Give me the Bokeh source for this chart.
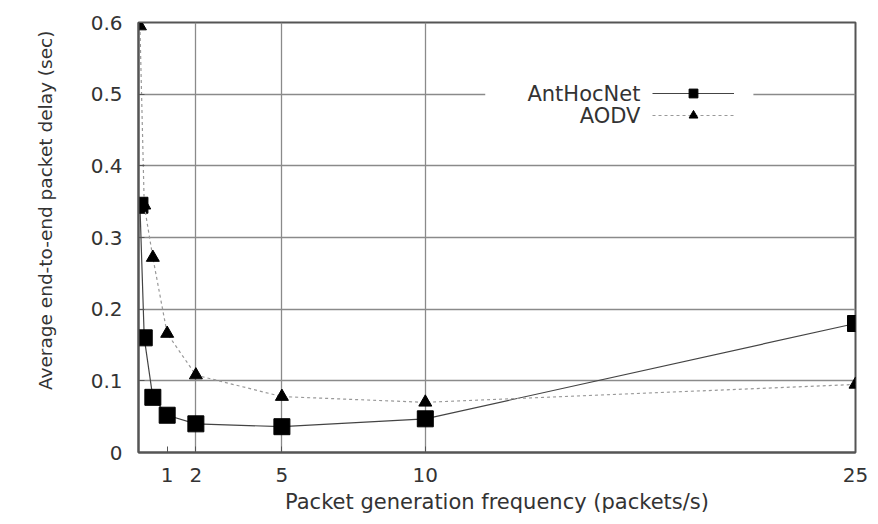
from bokeh.plotting import figure
from bokeh.models import (FixedTicker, Label, BoxAnnotation, Legend, LegendItem, Range1d, Title)
from bokeh.core.properties import value
from bokeh.embed import file_html
from bokeh.resources import INLINE

# ---- data ----
ant_x = [0.05, 0.2, 0.5, 1, 2, 5, 10, 25]
ant_y = [0.345, 0.160, 0.077, 0.052, 0.040, 0.036, 0.047, 0.180]
aodv_x = [0.05, 0.2, 0.5, 1, 2, 5, 10, 25]
aodv_y = [0.595, 0.345, 0.272, 0.166, 0.108, 0.078, 0.070, 0.095]
x_ticks = [1, 2, 5, 10, 25]
x_grid = [2, 5, 10]
y_ticks = [0, 0.1, 0.2, 0.3, 0.4, 0.5, 0.6]
y_tick_labels = ["0", "0.1", "0.2", "0.3", "0.4", "0.5", "0.6"]
series_names = ["AntHocNet", "AODV"]
x_title = "Packet generation frequency (packets/s)"
y_title = "Average end-to-end packet delay (sec)"

FONT = "DejaVu Sans"
TXT = "#333333"

p = figure(width=878, height=524, output_backend="svg", toolbar_location=None,
           x_range=Range1d(0, 25), y_range=Range1d(0, 0.6),
           min_border_left=138, min_border_right=23, min_border_top=22, min_border_bottom=72)
p.background_fill_color = "white"
p.border_fill_color = "white"
p.outline_line_color = "#555555"
p.outline_line_width = 2

# axes
p.xaxis.ticker = FixedTicker(ticks=x_ticks)
p.yaxis.ticker = FixedTicker(ticks=y_ticks)
p.yaxis.major_label_overrides = {t: l for t, l in zip(y_ticks, y_tick_labels)}
for ax in (p.xaxis[0], p.yaxis[0]):
    ax.axis_line_color = "#555555"
    ax.axis_line_width = 2
    ax.major_tick_out = 0
    ax.major_tick_in = 6
    ax.major_tick_line_color = "#555555"
    ax.minor_tick_line_color = None
    ax.major_label_text_font = FONT
    ax.major_label_text_font_size = "20px"
    ax.major_label_text_color = TXT
p.yaxis.major_label_standoff = 16
p.xaxis.major_label_standoff = 15
p.xaxis.axis_label = x_title
p.xaxis.axis_label_text_font = FONT
p.xaxis.axis_label_text_font_size = "21px"
p.xaxis.axis_label_text_font_style = "normal"
p.xaxis.axis_label_text_color = TXT
p.xaxis.axis_label_standoff = 5

# grid
p.xgrid.ticker = FixedTicker(ticks=x_grid)
p.ygrid.ticker = FixedTicker(ticks=y_ticks[1:-1])
for g in (p.xgrid[0], p.ygrid[0]):
    g.grid_line_color = "#8a8a8a"
    g.grid_line_width = 1.3

# y title as a left-side title, shifted toward the top and left like the original
p.add_layout(Title(text=y_title, align="right", offset=8, vertical_align="top", standoff=60,
                   text_font=FONT, text_font_size="18.5px", text_font_style="normal",
                   text_color=TXT), "left")

# series
l_ant = p.line(ant_x, ant_y, line_color="#444444", line_width=1.2)
s_ant = p.scatter(ant_x, ant_y, marker="square", size=16, fill_color="black", line_color="black")
l_aodv = p.line(aodv_x, aodv_y, line_color="#999999", line_width=1.2, line_dash="3 3")
s_aodv = p.scatter(aodv_x, aodv_y, marker="triangle", size=13, fill_color="black", line_color="black")

# legend (gnuplot style: text on left, sample on right)
p.add_layout(BoxAnnotation(left=12.09, right=21.44, top=0.519, bottom=0.454,
                           fill_color="white", fill_alpha=1.0, line_color=None))
legend = Legend(items=[LegendItem(label=value(""), renderers=[l_ant, s_ant]),
                       LegendItem(label=value(""), renderers=[l_aodv, s_aodv])],
                location=(514, 326), glyph_width=82, glyph_height=22, spacing=0,
                padding=0, margin=0, label_standoff=0, label_width=0, label_height=0,
                background_fill_alpha=0, border_line_alpha=0)
p.add_layout(legend)
for name, yy in zip(series_names, [0.5, 0.47]):
    p.add_layout(Label(x=17.5, y=yy, text=name, text_align="right", text_baseline="middle",
                       text_font=FONT, text_font_size="21px", text_color=TXT))

open("out.html", "w").write(file_html(p, INLINE))
